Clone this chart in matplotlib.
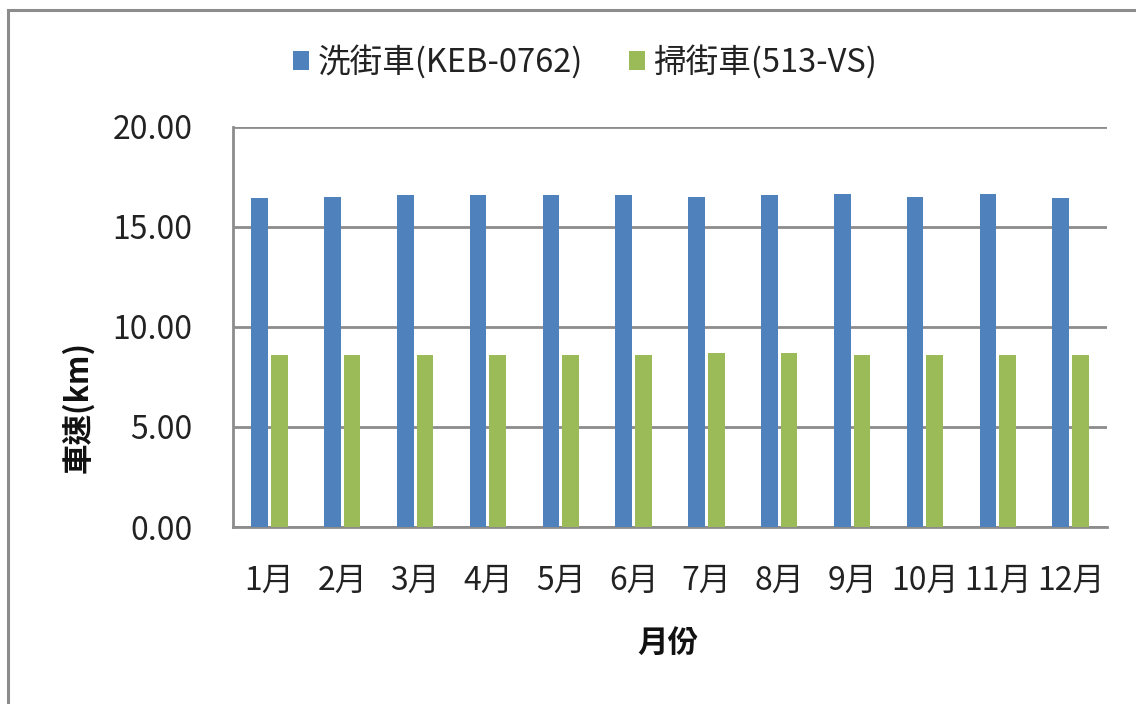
import matplotlib
matplotlib.use("Agg")
import matplotlib.pyplot as plt
import numpy as np
from matplotlib.patches import Rectangle

plt.rcParams['font.family'] = ['Noto Sans CJK TC', 'DejaVu Sans']

months = ["1月", "2月", "3月", "4月", "5月", "6月", "7月", "8月", "9月", "10月", "11月", "12月"]
washer = [16.43, 16.50, 16.60, 16.60, 16.60, 16.60, 16.50, 16.60, 16.65, 16.50, 16.65, 16.43]
sweeper = [8.60, 8.60, 8.60, 8.60, 8.60, 8.60, 8.68, 8.68, 8.60, 8.60, 8.60, 8.60]
series_names = ["洗街車(KEB-0762)", "掃街車(513-VS)"]
y_ticks = [0, 5, 10, 15, 20]

W, H = 1136, 704
fig = plt.figure(figsize=(W / 100, H / 100), dpi=100)

# outer chart frame (only top and left edges are inside the canvas)
fig.patches.append(Rectangle((8 / W, -0.1), 1.2, 1 - 10 / H + 0.1, transform=fig.transFigure,
                             fill=False, edgecolor="#8c8c8c", linewidth=2.2, zorder=0))

ax = fig.add_axes([233 / W, 1 - 527 / H, 874 / W, 400 / H])
x = np.arange(len(months))
bw = 0.229
off = 0.135
ax.bar(x - off, washer, bw, color="#4f81bd", label=series_names[0], zorder=3)
ax.bar(x + off, sweeper, bw, color="#9bbb59", label=series_names[1], zorder=3)

ax.set_xlim(-0.5, len(months) - 0.5)
ax.set_ylim(0, 20)
ax.set_yticks(y_ticks)
ax.set_yticklabels([f"{v:.2f}" for v in y_ticks])
ax.set_xticks(x)
ax.set_xticklabels(months)
ax.tick_params(axis="y", length=0, pad=29, labelsize=23, labelcolor="#222222")
ax.tick_params(axis="x", length=0, pad=27, labelsize=23, labelcolor="#222222")

ax.grid(axis="y", color="#8c8c8c", linewidth=2.0, zorder=0)
for s in ["top", "right"]:
    ax.spines[s].set_visible(False)
ax.spines["left"].set_color("#8c8c8c")
ax.spines["left"].set_linewidth(2.0)
ax.spines["bottom"].set_color("#8c8c8c")
ax.spines["bottom"].set_linewidth(2.0)

fig.text(78 / W, 1 - 407 / H, "車速(km)", rotation=90, ha="center", va="center",
         fontsize=22, fontweight="bold", color="#111111")
fig.text(668 / W, 1 - 643 / H, "月份", ha="center", va="center",
         fontsize=22, fontweight="bold", color="#111111")

leg = fig.legend(loc="center", bbox_to_anchor=(585 / W, 1 - 62 / H), ncol=2, frameon=False,
                 fontsize=23.5, handlelength=0.5, handleheight=0.5, handletextpad=0.25,
                 columnspacing=1.4)
for t in leg.get_texts():
    t.set_color("#222222")

fig.savefig("out.png", dpi=100)
